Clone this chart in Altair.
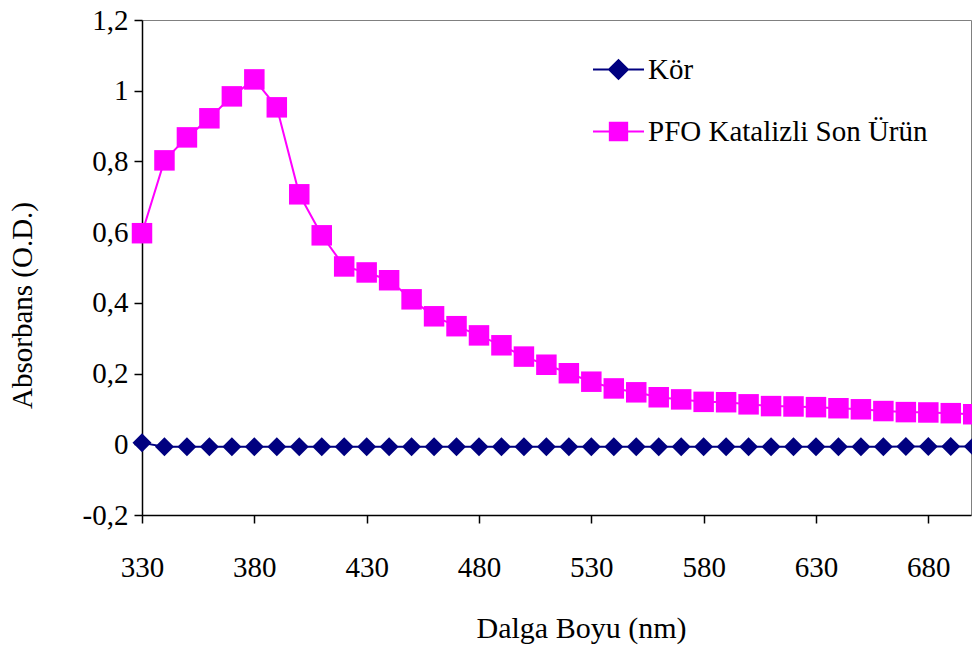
import altair as alt
import pandas as pd

# Wavelengths (nm) at which absorbance was read
wavelength = [330, 340, 350, 360, 370, 380, 390, 400, 410, 420,
              430, 440, 450, 460, 470, 480, 490, 500, 510, 520,
              530, 540, 550, 560, 570, 580, 590, 600, 610, 620,
              630, 640, 650, 660, 670, 680, 690, 700]

# Blank (Kör)
kor = [0.004, -0.007, -0.007, -0.007, -0.007, -0.007, -0.007, -0.007, -0.007, -0.007,
       -0.007, -0.007, -0.007, -0.007, -0.007, -0.007, -0.007, -0.007, -0.007, -0.007,
       -0.007, -0.007, -0.007, -0.007, -0.007, -0.007, -0.007, -0.007, -0.007, -0.007,
       -0.007, -0.007, -0.007, -0.007, -0.006, -0.006, -0.006, -0.006]

# PFO catalysed end product
pfo = [0.597, 0.803, 0.868, 0.922, 0.984, 1.032, 0.953, 0.707, 0.591, 0.503,
       0.486, 0.464, 0.410, 0.362, 0.334, 0.308, 0.280, 0.248, 0.225, 0.201,
       0.177, 0.158, 0.147, 0.133, 0.127, 0.120, 0.119, 0.113, 0.108, 0.107,
       0.105, 0.102, 0.099, 0.094, 0.091, 0.090, 0.088, 0.085]

series_names = ["Kör", "PFO Katalizli Son Ürün"]
series_colors = ["#000080", "#FF00FF"]
x_ticks = [330, 380, 430, 480, 530, 580, 630, 680]
y_ticks = [-0.2, 0, 0.2, 0.4, 0.6, 0.8, 1.0, 1.2]

# Legend glyphs: a short line with the series marker on it
legend_shapes = [
    "M-1,0L1,0M-0.37,0L0,-0.37L0.37,0L0,0.37Z",
    "M-1,0L1,0M-0.34,-0.34L0.34,-0.34L0.34,0.34L-0.34,0.34Z",
]

kor_df = pd.DataFrame({"nm": wavelength, "abs": kor, "seri": series_names[0]})
pfo_df = pd.DataFrame({"nm": wavelength, "abs": pfo, "seri": series_names[1]})
df = pd.concat([kor_df, pfo_df], ignore_index=True)

FONT = "Liberation Serif"
FS = 29

x = alt.X(
    "nm:Q",
    scale=alt.Scale(domain=[330, 699], nice=False, zero=False),
    axis=alt.Axis(
        values=x_ticks, title="Dalga Boyu (nm)", grid=False, labelFlush=False,
        tickSize=8, labelPadding=44, labelBaseline="middle",
        titleX=439, titleY=122, titleBaseline="alphabetic", titleAlign="center",
        titleFontSize=30,
    ),
)
y = alt.Y(
    "abs:Q",
    scale=alt.Scale(domain=[-0.2, 1.2], nice=False, zero=False),
    axis=alt.Axis(
        values=y_ticks, title="Absorbans (O.D.)", grid=False, labelFlush=False,
        tickSize=8, labelPadding=6,
        labelExpr="replace(replace(format(datum.value, '.1~f'), '.', ','), '\u2212', '-')",
        titleAngle=-90, titleX=-111, titleY=285,
        titleBaseline="alphabetic", titleAlign="center",
    ),
)

kor_line = alt.Chart(kor_df).mark_line(strokeWidth=2, color=series_colors[0]).encode(x=x, y=y)
pfo_line = alt.Chart(pfo_df).mark_line(strokeWidth=2, color=series_colors[1]).encode(x=x, y=y)

kor_points = alt.Chart(kor_df).mark_point(
    shape="diamond", filled=True, size=361, opacity=1, color=series_colors[0]
).encode(x=x, y=y)

pfo_points = alt.Chart(pfo_df).mark_point(
    shape="square", filled=True, size=420, opacity=1, color=series_colors[1]
).encode(x=x, y=y)

legend_def = alt.Legend(
    title=None, orient="none", legendX=450, legendY=23, padding=0,
    symbolOpacity=1, symbolSize=2601, symbolStrokeWidth=2,
    labelOffset=3, rowPadding=20, labelLimit=0,
    labelFont=FONT, labelFontSize=FS, labelColor="black",
)

# Transparent layer whose only job is to carry the legend
legend_layer = alt.Chart(df).mark_point(
    filled=True, opacity=0, strokeWidth=2
).encode(
    x=x, y=y,
    fill=alt.Fill("seri:N", scale=alt.Scale(domain=series_names, range=series_colors), legend=legend_def),
    stroke=alt.Stroke("seri:N", scale=alt.Scale(domain=series_names, range=series_colors), legend=legend_def),
    shape=alt.Shape("seri:N", scale=alt.Scale(domain=series_names, range=legend_shapes), legend=legend_def),
)

chart = alt.layer(kor_line, pfo_line, kor_points, pfo_points, legend_layer).properties(
    width=829, height=495,
    autosize=alt.AutoSizeParams(type="none"),
    padding={"left": 142, "top": 20, "right": 1, "bottom": 138},
    background="white",
).configure_view(
    stroke="#808080", strokeWidth=1,
).configure_axis(
    labelFont=FONT, titleFont=FONT, labelFontSize=FS, titleFontSize=FS,
    labelColor="black", titleColor="black", titleFontWeight="normal",
    domainColor="black", tickColor="black", domainWidth=1.5, tickWidth=1.5,
).configure_legend(
    labelFont=FONT, labelFontSize=FS, labelColor="black", symbolOpacity=1, labelLimit=0,
)

chart.save("out.html", embed_options={"renderer": "svg", "actions": False})
